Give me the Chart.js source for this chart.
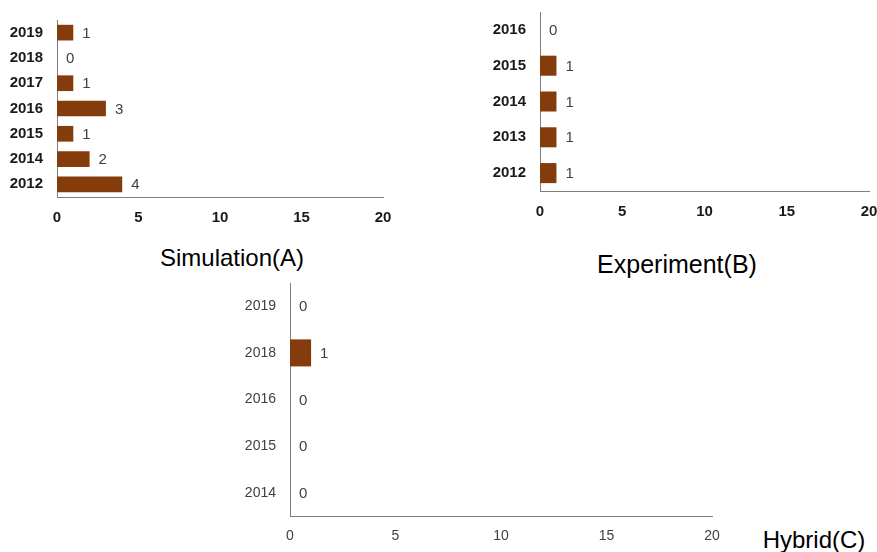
<!DOCTYPE html>
<html>
<head>
<meta charset="utf-8">
<script src="https://cdn.jsdelivr.net/npm/chart.js@4.4.1/dist/chart.umd.min.js"></script>
<style>
  html, body { margin: 0; padding: 0; background: #fff; overflow: hidden; }
  body { width: 877px; height: 552px; position: relative; }
  .box { position: absolute; }
  .title { position: absolute; font-family: "Liberation Sans", Arial, sans-serif; color: #000; white-space: nowrap; transform: translate(-50%, -50%); }
</style>
</head>
<body>

<div class="box" id="boxA" style="left:0px;top:20px;width:395px;height:217px"><canvas id="chartA"></canvas></div>
<div class="box" id="boxB" style="left:480px;top:12px;width:399px;height:219px"><canvas id="chartB"></canvas></div>
<div class="box" id="boxC" style="left:230px;top:283px;width:494px;height:269px"><canvas id="chartC"></canvas></div>

<div class="title" style="left:232px;top:258px;font-size:24px">Simulation(A)</div>
<div class="title" style="left:677px;top:264px;font-size:25px">Experiment(B)</div>
<div class="title" style="left:814px;top:540px;font-size:24px">Hybrid(C)</div>

<script>
// values, listed top to bottom as drawn
var simYears = ["2019", "2018", "2017", "2016", "2015", "2014", "2012"];
var simCounts = [1, 0, 1, 3, 1, 2, 4];

var expYears = ["2016", "2015", "2014", "2013", "2012"];
var expCounts = [0, 1, 1, 1, 1];

var hybYears = ["2019", "2018", "2016", "2015", "2014"];
var hybCounts = [0, 1, 0, 0, 0];

var xTicks = [0, 5, 10, 15, 20];

var BAR = "#843C0C";
var AXIS = "#7f7f7f";

// draws the value just past the end of each bar
var valueLabels = {
    id: "valueLabels",
    afterDatasetsDraw: function (chart) {
        var ctx = chart.ctx;
        var meta = chart.getDatasetMeta(0);
        var data = chart.data.datasets[0].data;
        ctx.save();
        ctx.font = "15px 'Liberation Sans', Arial, sans-serif";
        ctx.fillStyle = "#404040";
        ctx.textAlign = "left";
        ctx.textBaseline = "middle";
        meta.data.forEach(function (bar, i) {
            ctx.fillText(String(data[i]), bar.x + 9, bar.y + 1);
        });
        ctx.restore();
    }
};

function makeChart(id, labels, values, opts) {
    return new Chart(document.getElementById(id), {
        type: "bar",
        data: {
            labels: labels,
            datasets: [{
                data: values,
                backgroundColor: BAR,
                borderColor: "#9a4a1c",
                borderWidth: 0,
                categoryPercentage: 1,
                barPercentage: opts.barPct
            }]
        },
        options: {
            indexAxis: "y",
            responsive: true,
            maintainAspectRatio: false,
            animation: false,
            layout: { padding: { left: 0, top: 0, bottom: 0, right: opts.padRight } },
            plugins: {
                legend: { display: false },
                tooltip: { enabled: false }
            },
            scales: {
                x: {
                    min: 0,
                    max: 20,
                    afterBuildTicks: function (scale) {
                        scale.ticks = xTicks.map(function (v) { return { value: v }; });
                    },
                    afterFit: function (scale) {
                        scale.height = opts.xHeight;
                        scale.paddingLeft = 0;
                        scale.paddingRight = 0;
                    },
                    grid: { display: false, drawTicks: false },
                    border: { display: true, color: AXIS, width: 1 },
                    ticks: {
                        padding: opts.xPad,
                        color: opts.tickColor,
                        font: { family: "'Liberation Sans', Arial, sans-serif", size: opts.tickSize, weight: opts.tickWeight }
                    }
                },
                y: {
                    afterFit: function (scale) {
                        scale.width = opts.yWidth;
                        // keep the tick padding from pushing the plot down
                        scale.paddingTop = 0;
                        scale.paddingBottom = 0;
                    },
                    grid: { display: false, drawTicks: false },
                    border: { display: true, color: AXIS, width: 1 },
                    ticks: {
                        padding: opts.yPad,
                        color: opts.tickColor,
                        font: { family: "'Liberation Sans', Arial, sans-serif", size: opts.tickSize, weight: opts.tickWeight }
                    }
                }
            }
        },
        plugins: [valueLabels]
    });
}

makeChart("chartA", simYears, simCounts, {
    barPct: 0.62, padRight: 12, xHeight: 40, yWidth: 57, xPad: 12, yPad: 14,
    tickColor: "#1a1a1a", tickWeight: "bold", tickSize: 15
});

makeChart("chartB", expYears, expCounts, {
    barPct: 0.56, padRight: 10, xHeight: 40, yWidth: 60, xPad: 12, yPad: 14,
    tickColor: "#1a1a1a", tickWeight: "bold", tickSize: 15
});

makeChart("chartC", hybYears, hybCounts, {
    barPct: 0.58, padRight: 12, xHeight: 36, yWidth: 60, xPad: 12, yPad: 14,
    tickColor: "#404040", tickWeight: "normal", tickSize: 14
});
</script>
</body>
</html>
